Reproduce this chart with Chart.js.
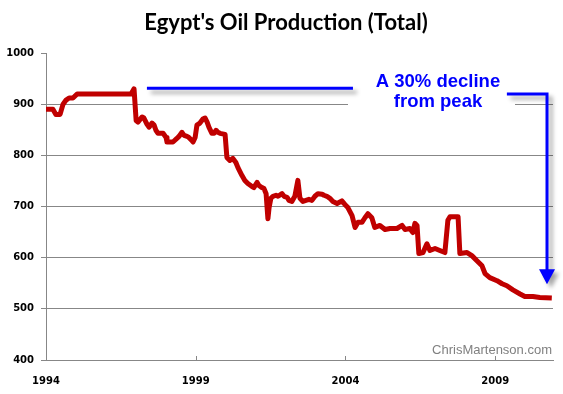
<!DOCTYPE html>
<html>
<head>
<meta charset="utf-8">
<script src="https://cdn.jsdelivr.net/npm/chart.js@4"></script>
<style>
  html, body { margin: 0; padding: 0; background: #fff; }
  canvas { display: block; }
</style>
</head>
<body>
<canvas id="oilchart" width="563" height="394"></canvas>
<script>
// decimal years (monthly-ish samples)
var years = [
  1994.00, 1994.23, 1994.33, 1994.47, 1994.57, 1994.67, 1994.77, 1994.90, 1995.04, 1996.84,
  1996.94, 1997.01, 1997.07, 1997.21, 1997.27, 1997.37, 1997.44, 1997.54, 1997.61, 1997.67,
  1997.74, 1997.91, 1998.01, 1998.04, 1998.24, 1998.37, 1998.44, 1998.54, 1998.61, 1998.71,
  1998.77, 1998.87, 1998.91, 1998.98, 1999.04, 1999.14, 1999.24, 1999.31, 1999.38, 1999.44,
  1999.54, 1999.61, 1999.68, 1999.74, 1999.81, 1999.98, 2000.04, 2000.14, 2000.24, 2000.34,
  2000.41, 2000.54, 2000.64, 2000.74, 2000.88, 2000.94, 2001.05, 2001.11, 2001.21, 2001.28,
  2001.35, 2001.41, 2001.45, 2001.51, 2001.58, 2001.68, 2001.75, 2001.88, 2001.95, 2002.05,
  2002.11, 2002.21, 2002.31, 2002.41, 2002.48, 2002.58, 2002.68, 2002.78, 2002.88, 2002.98,
  2003.08, 2003.22, 2003.28, 2003.38, 2003.48, 2003.58, 2003.72, 2003.88, 2003.98, 2004.08,
  2004.22, 2004.32, 2004.42, 2004.55, 2004.65, 2004.75, 2004.88, 2004.98, 2005.15, 2005.32,
  2005.49, 2005.72, 2005.89, 2005.99, 2006.15, 2006.25, 2006.32, 2006.39, 2006.45, 2006.59,
  2006.72, 2006.82, 2006.99, 2007.15, 2007.32, 2007.42, 2007.49, 2007.76, 2007.82, 2008.06,
  2008.22, 2008.39, 2008.56, 2008.66, 2008.82, 2009.06, 2009.23, 2009.39, 2009.59, 2009.83,
  2009.99, 2010.26, 2010.49, 2010.89
];
// thousand barrels per day
var production = [
  890, 890, 880, 880, 900, 908, 912, 912, 920, 920,
  930, 868, 865, 875, 873, 861, 855, 863, 859, 849,
  843, 843, 835, 826, 826, 833, 837, 845, 839, 837,
  835, 829, 826, 835, 859, 863, 871, 873, 865, 855,
  843, 843, 849, 845, 843, 841, 796, 790, 794, 786,
  776, 761, 751, 745, 739, 737, 747, 741, 737, 735,
  725, 676, 698, 716, 720, 722, 720, 725, 720, 718,
  712, 710, 720, 751, 716, 710, 712, 714, 712, 720,
  725, 724, 722, 720, 716, 710, 706, 711, 704, 698,
  682, 659, 669, 669, 678, 686, 678, 659, 663, 655,
  657, 657, 663, 655, 657, 649, 667, 663, 608, 610,
  627, 614, 618, 614, 610, 673, 680, 680, 608, 610,
  604, 594, 584, 569, 561, 555, 549, 545, 537, 529,
  524, 524, 522, 521
];
var xTickYears = [1994, 1999, 2004, 2009];
var yTickValues = [400, 500, 600, 700, 800, 900, 1000];

var gridGray = '#878787';
var labelFont = { family: 'DejaVu Sans', size: 10, weight: 'bold' };

var points = years.map(function(y, i) { return { x: y, y: production[i] }; });

// title, watermark and the blue "decline" call-out
var extras = {
  id: 'extras',
  afterDatasetsDraw: function(chart) {
    var ctx = chart.ctx;
    var xs = chart.scales.x, ys = chart.scales.y;
    var area = chart.chartArea;

    ctx.save();
    // inward tick marks on the date axis
    ctx.strokeStyle = gridGray;
    ctx.lineWidth = 1;
    xTickYears.forEach(function(t) {
      if (t === xTickYears[0]) return;
      var px = Math.round(xs.getPixelForValue(t)) + 0.5;
      ctx.beginPath();
      ctx.moveTo(px, area.bottom - 4);
      ctx.lineTo(px, area.bottom);
      ctx.stroke();
    });

    // title
    ctx.fillStyle = '#000';
    ctx.font = 'bold 22px Lato';
    ctx.textAlign = 'center';
    ctx.textBaseline = 'alphabetic';
    ctx.fillText("Egypt's Oil Production (Total)", 286, 30);

    // watermark
    ctx.fillStyle = '#808080';
    ctx.font = '13px "Liberation Sans"';
    ctx.textAlign = 'right';
    ctx.fillText('ChrisMartenson.com', 552, 354);

    // text box (white fill hides the gridline behind it)
    var boxX = xs.getPixelForValue(2007.09);
    ctx.fillStyle = '#fff';
    ctx.fillRect(boxX - 90, 64, 167, 48);
    ctx.fillStyle = '#0000ff';
    ctx.font = 'bold 18.5px "Liberation Sans"';
    ctx.textAlign = 'center';
    ctx.fillText('A 30% decline', boxX, 87);
    ctx.fillText('from peak', boxX, 107);

    // peak line and arrow with soft shadow
    ctx.shadowColor = 'rgba(0,0,0,0.35)';
    ctx.shadowBlur = 4;
    ctx.shadowOffsetX = 4;
    ctx.shadowOffsetY = 4;
    ctx.strokeStyle = '#0000ff';
    ctx.lineWidth = 3;
    ctx.beginPath();
    ctx.moveTo(xs.getPixelForValue(1997.37), ys.getPixelForValue(931));
    ctx.lineTo(xs.getPixelForValue(2004.25), ys.getPixelForValue(931));
    ctx.stroke();

    var ax0 = xs.getPixelForValue(2009.39);
    var ax1 = xs.getPixelForValue(2010.73);
    var ay0 = ys.getPixelForValue(920);
    var tip = ys.getPixelForValue(548);
    ctx.beginPath();
    ctx.moveTo(ax0, ay0);
    ctx.lineTo(ax1, ay0);
    ctx.lineTo(ax1, tip - 12);
    ctx.stroke();
    ctx.fillStyle = '#0000ff';
    ctx.beginPath();
    ctx.moveTo(ax1 - 8, tip - 15);
    ctx.lineTo(ax1 + 8, tip - 15);
    ctx.lineTo(ax1, tip);
    ctx.closePath();
    ctx.fill();
    ctx.restore();
  }
};

var chart = new Chart(document.getElementById('oilchart'), {
  type: 'line',
  data: {
    datasets: [{
      label: "Egypt's Oil Production (Total)",
      data: points,
      borderColor: '#c00000',
      borderWidth: 5,
      borderJoinStyle: 'round',
      borderCapStyle: 'butt',
      fill: false,
      tension: 0,
      pointRadius: 0
    }]
  },
  options: {
    responsive: false,
    animation: false,
    devicePixelRatio: 1,
    layout: { padding: { top: 53, right: 10, left: 0, bottom: 0 } },
    plugins: {
      legend: { display: false },
      tooltip: { enabled: false },
      title: { display: false }
    },
    scales: {
      x: {
        type: 'linear',
        min: 1994,
        max: 2010.93,
        afterBuildTicks: function(s) {
          s.ticks = xTickYears.map(function(v) { return { value: v }; });
        },
        afterFit: function(s) { s.height = 34; },
        grid: { drawOnChartArea: false, drawTicks: false },
        border: { color: gridGray, width: 1 },
        ticks: {
          padding: 15,
          autoSkip: false,
          maxRotation: 0,
          color: '#000',
          font: labelFont,
          callback: function(v) { return String(v); }
        }
      },
      y: {
        min: 400,
        max: 1000,
        afterBuildTicks: function(s) {
          s.ticks = yTickValues.map(function(v) { return { value: v }; });
        },
        afterFit: function(s) { s.width = 46; },
        grid: {
          color: function(c) {
            return c.tick && c.tick.value === 1000 ? 'rgba(0,0,0,0)' : gridGray;
          },
          tickColor: gridGray,
          tickLength: 5,
          lineWidth: 1
        },
        border: { color: gridGray, width: 1 },
        ticks: {
          padding: 7,
          color: '#000',
          font: labelFont,
          callback: function(v) { return String(v); }
        }
      }
    }
  },
  plugins: [extras]
});
</script>
</body>
</html>
